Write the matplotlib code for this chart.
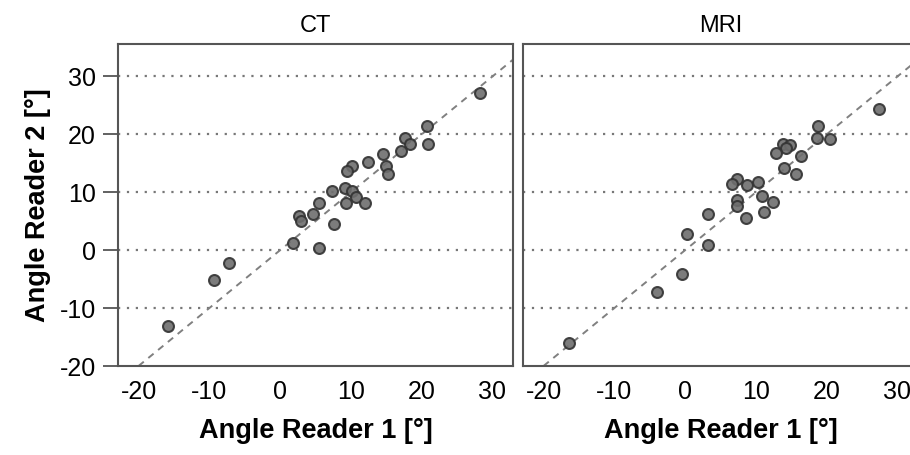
import matplotlib
matplotlib.use("Agg")
import matplotlib.pyplot as plt

plt.rcParams['font.family'] = ['Liberation Sans', 'DejaVu Sans']
plt.rcParams['axes.unicode_minus'] = False

# Angle measurements, reader 1 vs reader 2 (degrees)
ct_r1 = [28.2, 20.8, 20.9, 17.6, 18.3, 17.1, 14.5, 14.9, 15.3, 12.4, 10.2, 9.5, 7.4, 9.1,
         10.1, 10.7, 9.3, 12.0, 5.5, 4.7, 2.7, 3.0, 7.6, 1.8, 5.5, -7.2, -9.4, -15.8]
ct_r2 = [27.1, 21.4, 18.3, 19.4, 18.4, 17.1, 16.6, 14.5, 13.1, 15.2, 14.5, 13.6, 10.2, 10.8,
         10.3, 9.2, 8.2, 8.2, 8.2, 6.2, 5.9, 5.0, 4.6, 1.2, 0.4, -2.3, -5.2, -13.1]

mri_r1 = [27.4, 18.8, 18.6, 20.4, 13.8, 14.8, 14.2, 12.8, 16.4, 13.9, 15.6, 7.3, 6.6, 8.8,
          10.3, 10.9, 12.4, 7.4, 7.3, 11.2, 8.6, 3.2, 0.3, 3.3, -0.5, -4.0, -16.4]
mri_r2 = [24.3, 21.5, 19.4, 19.2, 18.4, 18.2, 17.7, 16.8, 16.2, 14.2, 13.1, 12.3, 11.5, 11.3,
          11.8, 9.4, 8.4, 8.7, 7.7, 6.6, 5.6, 6.2, 2.8, 0.9, -4.1, -7.2, -16.0]

panels = ['CT', 'MRI']
ticks = [-20, -10, 0, 10, 20, 30]

W, H = 910, 455
fig = plt.figure(figsize=(W / 100, H / 100), dpi=100)
ax1 = fig.add_axes([118 / W, 89 / H, 395 / W, 322 / H])
ax2 = fig.add_axes([523 / W, 89 / H, 395 / W, 322 / H])

for ax, name, x, y in [(ax1, panels[0], ct_r1, ct_r2), (ax2, panels[1], mri_r1, mri_r2)]:
    ax.set_xlim(-22.9, 32.9)
    ax.set_ylim(-20, 35.6)
    for t in ticks[1:]:
        ax.axhline(t, color='#777777', lw=1.6, ls=(0, (1, 3)), zorder=1)
    ax.axline((0, 0), slope=1, color='#808080', lw=1.4, ls=(0, (3.5, 3)), zorder=1)
    ax.scatter(x, y, s=62, facecolor='#6e6e6e', edgecolor='#333333', linewidth=1.5,
               alpha=0.9, zorder=3)
    ax.set_title(name, fontsize=17, pad=9)
    ax.set_xticks(ticks)
    ax.tick_params(axis='x', length=0, pad=10, labelsize=18)
    ax.set_xlabel('Angle Reader 1 [°]', fontsize=19.5, fontweight='bold', labelpad=10)
    for s in ax.spines.values():
        s.set_color('#555555')
        s.set_linewidth(1.5)

ax1.set_yticks(ticks)
ax1.tick_params(axis='y', length=11, width=1.3, color='#555555', pad=5, labelsize=18)
ax1.set_ylabel('Angle Reader 2 [°]', fontsize=19.5, fontweight='bold', labelpad=6)
ax2.set_yticks(ticks)
ax2.tick_params(axis='y', length=0, labelleft=False)

fig.savefig('out.png', dpi=100)
